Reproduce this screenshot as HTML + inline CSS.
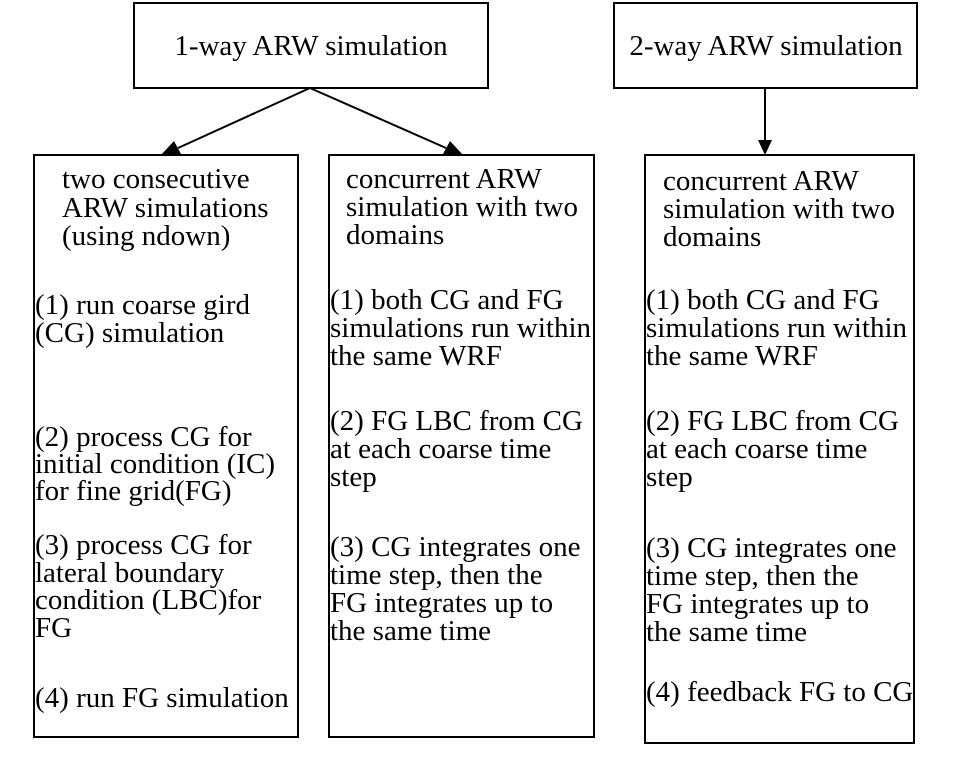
<!DOCTYPE html>
<html><head><meta charset="utf-8"><style>
html,body{margin:0;padding:0;background:#fff;}
svg{display:block;}
text{font-family:"Liberation Serif",serif;font-size:29px;fill:#000;}
</style></head><body>
<svg width="956" height="770" viewBox="0 0 956 770" xmlns="http://www.w3.org/2000/svg">
<g fill="none" stroke="#000" stroke-width="2">
<rect x="134" y="3" width="354" height="85"/>
<rect x="614" y="3" width="303" height="85"/>
<rect x="34" y="155" width="264" height="582"/>
<rect x="329" y="155" width="265" height="582"/>
<rect x="645" y="155" width="269" height="588"/>
<line x1="310" y1="88" x2="178" y2="148"/>
<line x1="310" y1="88" x2="446" y2="148"/>
<line x1="765" y1="88" x2="765" y2="140"/>
</g>
<g fill="#000">
<polygon points="161,155 174,141 181,154"/>
<polygon points="463,155 443,154 450,141"/>
<polygon points="758,140 772,140 765,155"/>
</g>
<text x="311" y="55" text-anchor="middle">1-way ARW simulation</text>
<text x="766" y="55" text-anchor="middle">2-way ARW simulation</text>

<text x="62" y="188">two consecutive</text>
<text x="62" y="217">ARW simulations</text>
<text x="62" y="245">(using ndown)</text>
<text x="35" y="314">(1) run coarse gird</text>
<text x="35" y="342">(CG) simulation</text>
<text x="35" y="446">(2) process CG for</text>
<text x="35" y="473">initial condition (IC)</text>
<text x="35" y="500">for fine grid(FG)</text>
<text x="35" y="554">(3) process CG for</text>
<text x="35" y="582">lateral boundary</text>
<text x="35" y="609">condition (LBC)for</text>
<text x="35" y="637">FG</text>
<text x="35" y="707">(4) run FG simulation</text>

<text x="346" y="188">concurrent ARW</text>
<text x="346" y="216">simulation with two</text>
<text x="346" y="244">domains</text>
<text x="330" y="309">(1) both CG and FG</text>
<text x="330" y="337">simulations run within</text>
<text x="330" y="365">the same WRF</text>
<text x="330" y="430">(2) FG LBC from CG</text>
<text x="330" y="458">at each coarse time</text>
<text x="330" y="486">step</text>
<text x="330" y="556">(3) CG integrates one</text>
<text x="330" y="584">time step, then the</text>
<text x="330" y="612">FG integrates up to</text>
<text x="330" y="640">the same time</text>

<text x="663" y="190">concurrent ARW</text>
<text x="663" y="218">simulation with two</text>
<text x="663" y="246">domains</text>
<text x="646" y="309">(1) both CG and FG</text>
<text x="646" y="337">simulations run within</text>
<text x="646" y="365">the same WRF</text>
<text x="646" y="430">(2) FG LBC from CG</text>
<text x="646" y="458">at each coarse time</text>
<text x="646" y="486">step</text>
<text x="646" y="557">(3) CG integrates one</text>
<text x="646" y="585">time step, then the</text>
<text x="646" y="613">FG integrates up to</text>
<text x="646" y="641">the same time</text>
<text x="646" y="701">(4) feedback FG to CG</text>
</svg>
</body></html>
